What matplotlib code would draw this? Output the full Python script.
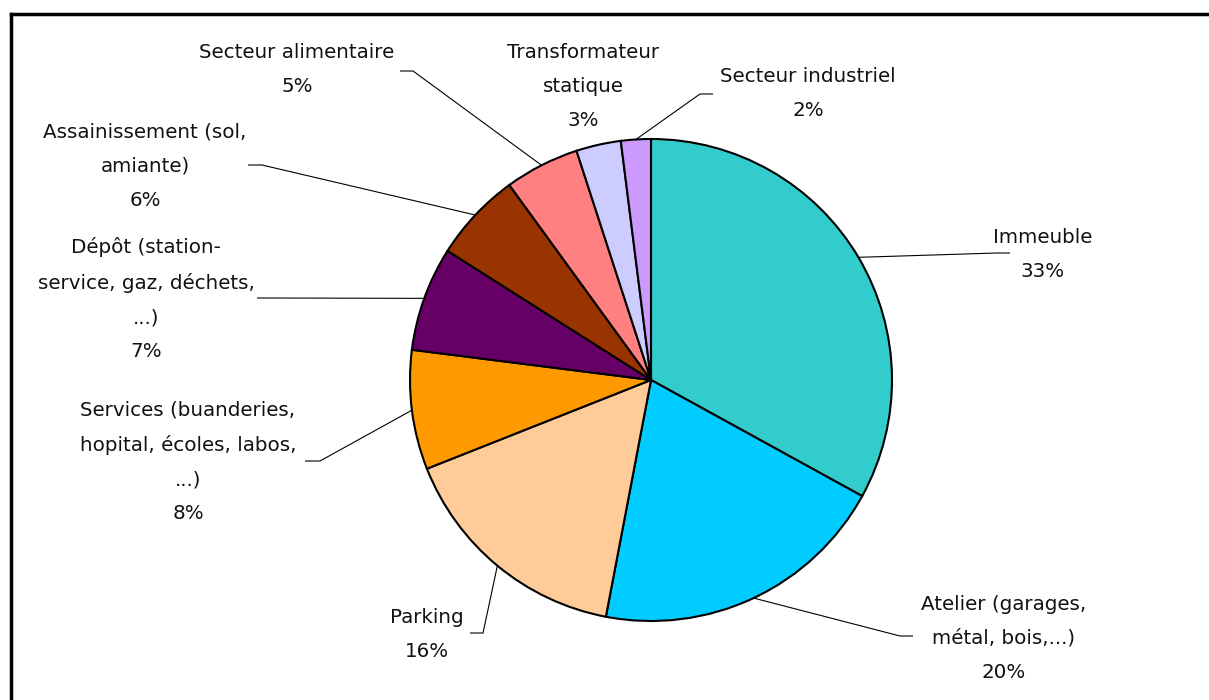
import numpy as np
import matplotlib
matplotlib.use("Agg")
import matplotlib.pyplot as plt
from matplotlib.lines import Line2D

plt.rcParams['font.family'] = 'DejaVu Sans'

# parts of each sector (%), clockwise from 12 o'clock
labels = ["Immeuble", "Atelier (garages,\nmétal, bois,...)", "Parking",
          "Services (buanderies,\nhopital, écoles, labos,\n...)",
          "Dépôt (station-\nservice, gaz, déchets,\n...)",
          "Assainissement (sol,\namiante)", "Secteur alimentaire",
          "Transformateur\nstatique", "Secteur industriel"]
values = [33, 20, 16, 8, 7, 6, 5, 3, 2]
colors = ["#33CCCC", "#00CCFF", "#FFCC99", "#FF9900", "#660066",
          "#993300", "#FF8080", "#CCCCFF", "#CC99FF"]

W, H = 1209, 700
fig = plt.figure(figsize=(W / 100, H / 100), dpi=100)
ax = fig.add_axes([0, 0, 1, 1])

def py(y):
    # pixel row (top=0) -> data y
    return H - y

cx, cy, r = 651, 380, 241
wedges, _ = ax.pie(values, colors=colors, startangle=90, counterclock=False,
                   center=(cx, py(cy)), radius=r, frame=True,
                   wedgeprops=dict(edgecolor='black', linewidth=1.5))
ax.set_xlim(0, W)
ax.set_ylim(0, H)
ax.axis('off')

# label text centre (x, y of first line) and leader line elbow / end
text_pos = [(1043, 238), (1004, 605), (427, 618), (188, 410), (146, 247),
            (145, 133), (297, 53), (583, 53), (808, 77)]
elbows = [(997, 253, 1010), (900, 636, 913), (483, 633, 470), (320, 461, 305),
          (270, 298, 257), (262, 165, 248), (413, 71, 400), None, (700, 94, 713)]

for w, lab, v, tp, el in zip(wedges, labels, values, text_pos, elbows):
    ang = np.deg2rad((w.theta1 + w.theta2) / 2)
    ex, ey = cx + r * np.cos(ang), py(cy) + r * np.sin(ang)
    if el is not None:
        bx, by, endx = el
        ax.plot([ex, bx, endx], [ey, py(by), py(by)], color='black', lw=0.8,
                solid_capstyle='butt', zorder=0)
    ax.text(tp[0], py(tp[1] - 10), f"{lab}\n{v}%", ha='center', va='top',
            fontsize=14.3, color='#111111', linespacing=2.0)

# outer frame (top and left edges)
fig.add_artist(Line2D([11 / W, 1], [1 - 14 / H, 1 - 14 / H], color='black',
                      lw=2.5, transform=fig.transFigure))
fig.add_artist(Line2D([11 / W, 11 / W], [0, 1 - 14 / H], color='black',
                      lw=2.5, transform=fig.transFigure))

fig.savefig("out.png", dpi=100)
